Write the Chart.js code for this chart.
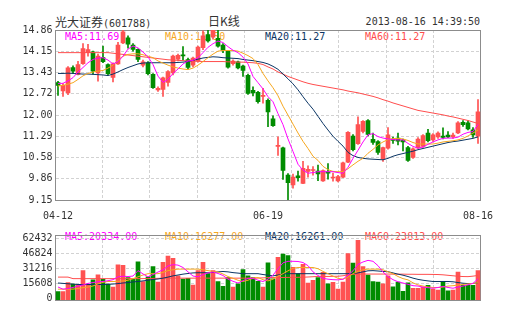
<!DOCTYPE html>
<html>
<head>
<meta charset="utf-8">
<title>光大证券 日K线</title>
<script src="https://cdn.jsdelivr.net/npm/chart.js@4.4.0/dist/chart.umd.min.js"></script>
<style>
  html, body { margin: 0; padding: 0; background: #fff; }
  #box { position: relative; width: 505px; height: 330px; overflow: hidden;
         font-family: "DejaVu Sans Mono", monospace; font-size: 10px; color: #333; }
  #box canvas { position: absolute; left: 0; }
  .txt { position: absolute; white-space: nowrap; line-height: 12px; }
  .cjk { font-family: "Noto Sans CJK SC", sans-serif; font-size: 12px; }
</style>
</head>
<body>
<div id="box">
  <div class="txt" style="left:55px;top:16px"><span class="cjk">光大证券</span>(601788)</div>
  <div class="txt cjk" style="left:208px;top:15px">日K线</div>
  <div class="txt" style="right:25px;top:16px">2013-08-16 14:39:50</div>

  <div class="txt" style="left:65px;top:31px;color:#ff00ff">MA5:11.69</div>
  <div class="txt" style="left:165px;top:31px;color:#f6a71f">MA10:11.50</div>
  <div class="txt" style="left:265px;top:31px;color:#0b3564">MA20:11.27</div>
  <div class="txt" style="left:365px;top:31px;color:#ff4d4d">MA60:11.27</div>

  <div class="txt" style="left:65px;top:231px;color:#ff00ff">MA5:20334.00</div>
  <div class="txt" style="left:165px;top:231px;color:#f6a71f">MA10:16277.00</div>
  <div class="txt" style="left:265px;top:231px;color:#0b3564">MA20:16261.00</div>
  <div class="txt" style="left:365px;top:231px;color:#ff4d4d">MA60:23813.00</div>

  <canvas id="kline" width="505" height="226" style="top:0"></canvas>
  <canvas id="volume" width="505" height="104" style="top:226px"></canvas>
</div>
<script>
// trading days
const dates = ['04-12','04-15','04-16','04-17','04-18','04-19','04-22','04-23','04-24','04-25','04-26',
  '05-02','05-03','05-06','05-07','05-08','05-09','05-10','05-13','05-14','05-15','05-16','05-17',
  '05-20','05-21','05-22','05-23','05-24','05-27','05-28','05-29','05-30','05-31',
  '06-03','06-04','06-05','06-06','06-07','06-13','06-14','06-17','06-18','06-19','06-20','06-21',
  '06-24','06-25','06-26','06-27','06-28',
  '07-01','07-02','07-03','07-04','07-05','07-08','07-09','07-10','07-11','07-12','07-15','07-16',
  '07-17','07-18','07-19','07-22','07-23','07-24','07-25','07-26','07-29','07-30','07-31',
  '08-01','08-02','08-05','08-06','08-07','08-08','08-09','08-12','08-13','08-14','08-15','08-16'];
const dateMarks = ['04-12', '06-19', '08-16'];

// daily prices
const open = [13.09,12.81,12.75,13.60,13.37,13.73,14.10,14.13,13.42,13.93,
  13.70,13.27,13.72,14.43,14.60,14.35,14.21,13.68,13.76,13.37,
  12.85,12.86,13.10,13.42,13.88,14.01,13.87,13.68,13.81,14.27,
  14.71,14.62,14.58,14.35,14.15,13.73,13.79,13.65,13.34,12.83,
  12.77,12.63,12.50,11.88,10.95,10.90,9.99,9.66,9.96,9.71,
  10.11,10.14,10.12,9.79,10.10,9.89,9.79,9.92,10.42,11.30,
  11.04,11.45,11.82,11.19,11.11,10.52,10.89,11.20,11.23,11.16,
  10.91,10.58,10.90,10.95,11.40,11.17,11.27,11.30,11.33,11.27,
  11.40,11.76,11.74,11.51,11.29];
const close = [13.00,13.00,13.59,13.48,13.70,14.24,14.20,13.48,13.98,13.80,
  13.39,13.72,14.35,14.80,14.38,14.21,13.87,13.79,13.39,12.92,
  12.90,13.25,13.46,13.98,14.01,13.99,13.60,13.92,14.29,14.66,
  14.49,14.85,14.32,14.17,13.61,13.82,13.59,13.50,12.73,12.75,
  12.45,12.66,12.11,11.65,10.98,10.14,9.73,9.92,9.90,10.21,
  10.18,10.16,10.03,10.14,10.05,9.91,9.94,10.40,11.42,10.84,
  11.68,11.79,11.35,11.08,10.75,10.91,11.34,11.15,11.13,11.10,
  10.48,10.87,11.20,11.31,11.14,11.34,11.40,11.25,11.27,11.33,
  11.74,11.68,11.54,11.34,12.11];
const high = [13.14,13.06,13.63,13.66,13.81,14.40,14.38,14.15,14.05,14.32,
  13.72,13.76,14.45,14.86,14.66,14.40,14.23,13.85,13.80,13.40,
  12.95,13.28,13.50,14.02,14.05,14.30,13.92,13.95,14.32,14.83,
  14.86,14.86,14.85,14.40,14.18,13.86,13.82,13.68,13.38,12.95,
  12.80,12.90,12.55,11.98,11.27,10.93,10.04,10.02,10.12,10.45,
  10.30,10.27,10.32,10.16,10.37,10.05,9.98,10.42,11.45,11.35,
  11.94,11.82,11.85,11.40,11.15,10.93,11.58,11.26,11.40,11.20,
  10.95,10.90,11.25,11.35,11.52,11.38,11.44,11.57,11.45,11.40,
  11.78,11.82,11.82,11.58,12.52];
const low = [12.66,12.63,12.69,13.40,13.35,13.70,13.98,13.38,13.14,13.76,
  13.36,13.12,13.70,14.40,14.25,14.15,13.80,13.62,13.35,12.90,
  12.80,12.63,12.97,13.35,13.82,13.85,13.55,13.62,13.78,14.20,
  14.45,14.55,14.28,14.10,13.58,13.68,13.55,13.30,12.70,12.65,
  12.40,12.40,11.61,11.62,10.65,9.84,9.15,9.55,9.78,9.70,
  9.92,9.98,9.80,9.77,9.85,9.78,9.76,9.90,10.40,10.80,
  11.02,11.40,11.30,11.02,10.68,10.45,10.86,11.05,11.00,10.80,
  10.45,10.55,10.88,10.92,11.10,11.12,11.22,11.20,11.24,11.22,
  11.38,11.62,11.50,11.25,11.05];

// price moving averages
const ma5 = [13.06,13.07,13.15,13.26,13.45,13.60,13.76,13.87,13.92,13.93,
  13.85,13.72,13.80,13.98,14.22,14.32,14.26,14.12,13.96,13.70,
  13.31,13.10,13.20,13.40,13.55,13.72,13.82,13.84,13.93,14.10,
  14.28,14.40,14.49,14.44,14.30,14.18,14.10,13.95,13.72,13.30,
  13.09,12.88,12.62,12.45,12.05,11.68,11.20,10.78,10.35,10.15,
  10.05,10.07,10.10,10.10,10.10,10.10,10.07,10.05,10.25,10.55,
  10.82,11.10,11.34,11.38,11.28,11.23,11.20,11.18,11.17,11.17,
  11.05,10.95,10.89,10.93,11.02,11.10,11.17,11.22,11.23,11.23,
  11.26,11.36,11.42,11.45,11.69];
const ma10 = [12.98,13.00,13.04,13.09,13.20,13.32,13.40,13.45,13.48,13.50,
  13.58,13.68,13.85,13.98,14.04,14.06,14.06,14.03,13.98,13.93,
  13.82,13.75,13.68,13.62,13.58,13.55,13.53,13.58,13.68,13.80,
  13.93,14.05,14.15,14.17,14.17,14.17,14.15,14.08,14.00,13.90,
  13.70,13.40,13.15,12.92,12.65,12.30,12.00,11.70,11.40,11.12,
  10.88,10.62,10.48,10.28,10.17,10.11,10.10,10.10,10.20,10.33,
  10.45,10.55,10.72,10.85,11.00,11.10,11.18,11.21,11.22,11.20,
  11.15,11.08,11.03,11.03,11.03,11.03,11.06,11.10,11.12,11.14,
  11.17,11.22,11.30,11.40,11.50];
const ma20 = [13.40,13.40,13.41,13.40,13.39,13.38,13.38,13.37,13.36,13.35,
  13.33,13.38,13.45,13.53,13.60,13.66,13.72,13.75,13.76,13.76,
  13.76,13.76,13.76,13.76,13.77,13.78,13.80,13.84,13.88,13.92,
  13.94,13.96,13.95,13.93,13.92,13.91,13.90,13.87,13.85,13.83,
  13.80,13.77,13.72,13.64,13.54,13.38,13.22,13.05,12.85,12.62,
  12.40,12.20,11.96,11.72,11.50,11.29,11.12,10.96,10.75,10.64,
  10.58,10.55,10.53,10.52,10.51,10.50,10.55,10.62,10.67,10.71,
  10.75,10.79,10.84,10.88,10.92,10.96,11.00,11.04,11.08,11.11,
  11.13,11.16,11.19,11.22,11.27];
const ma60 = [14.10,14.10,14.10,14.10,14.10,14.10,14.10,14.10,14.10,14.10,
  14.10,14.08,14.06,14.04,14.02,14.00,13.98,13.96,13.94,13.92,
  13.90,13.88,13.86,13.85,13.84,13.83,13.82,13.81,13.81,13.80,
  13.80,13.80,13.80,13.80,13.79,13.79,13.78,13.78,13.77,13.76,
  13.74,13.70,13.62,13.55,13.45,13.38,13.30,13.24,13.18,13.12,
  13.07,13.03,13.00,12.97,12.94,12.91,12.88,12.85,12.81,12.78,
  12.75,12.71,12.67,12.63,12.58,12.52,12.47,12.41,12.36,12.31,
  12.26,12.21,12.16,12.13,12.10,12.07,12.04,12.01,11.97,11.94,
  11.90,11.86,11.82,11.77,11.72];

// daily volume and its moving averages
const volume = [7000,7000,16400,14800,14100,29000,14500,19300,24600,19700,
  14900,11700,35100,34500,21500,19800,38200,17500,22400,33200,
  16900,37700,44200,41900,23400,20100,20800,13700,28900,37700,
  25700,28900,17500,12400,21500,11700,15000,29900,23400,21500,
  17700,11700,37000,20300,43000,46200,44600,32500,25800,35600,
  15700,18600,21500,27000,15000,16600,9500,16900,46700,36900,
  60800,33200,24100,17500,16900,15000,23400,12000,16900,7100,
  16200,10400,10400,11700,13400,9400,8400,17500,7800,8400,
  27300,13500,13500,13500,29000];
const vma5 = [11700,9400,10100,11200,12700,13900,15500,16400,17200,17500,
  18300,19400,22400,23000,22700,23200,28900,25400,22400,24800,
  27400,29800,33800,35200,34700,32200,27600,23200,22400,24800,
  26500,27400,25900,23800,19900,17700,15900,18300,20800,20800,
  18800,17500,19900,24100,30900,37100,38700,38700,38500,37400,
  34100,27600,23800,20800,19900,19400,19200,19900,24100,28700,
  35500,38000,39700,38700,34100,27400,22700,19400,17200,15900,
  14500,13100,12700,11600,11000,10400,11200,12300,11200,10400,
  11700,12700,14000,15500,20334];
const vma10 = [9400,9400,9400,9500,10100,11000,11700,12800,15000,16600,
  17500,17500,17700,18000,18800,20500,22400,24300,25700,25700,
  25700,27000,28900,29800,30500,30500,30500,30500,30500,29800,
  28900,28100,27400,25400,22700,20800,18800,17500,18800,21000,
  21600,19400,18100,19900,23200,25700,28700,31400,32200,32200,
  32200,32200,30900,28100,25700,23200,20800,19900,22100,25700,
  28100,29800,30500,30500,30500,29800,27600,25700,22700,20500,
  19200,16100,13900,12700,11700,11200,11100,11700,12700,13100,
  13800,14300,14900,15500,16277];
const vma20 = [15900,15500,15100,14700,14300,14300,14300,14300,14300,14300,
  14500,14800,15300,15900,16400,17000,17500,18100,18800,19600,
  20100,21000,22100,23400,24300,25200,25900,26500,26700,26700,
  26700,27000,27600,28000,27600,26800,26300,25700,25700,25700,
  25700,24800,24100,23400,24300,25400,25700,25700,25700,25700,
  25700,25700,25700,25700,25700,25700,25700,25700,25700,25700,
  26500,27600,28700,28900,28500,28100,27800,26500,25200,24100,
  22700,21000,19700,18800,18100,17500,17500,17500,17500,17200,
  16400,15700,15300,15400,16261];
const vma60 = [22100,22100,22100,20500,20500,20500,20500,20500,20500,20500,
  20500,20500,20500,20500,20500,20500,20500,20500,20600,20700,
  20800,20900,21000,21000,21000,21000,21000,21000,21000,21000,
  21000,21000,21000,21000,21000,21000,21000,21000,21000,21000,
  21100,21300,21600,21600,21600,21700,21800,21800,21900,22000,
  22200,22500,22800,22800,22800,22900,23000,23500,24600,25000,
  25200,25300,25300,25300,25300,25300,25300,25200,25200,25200,
  25100,25100,25000,25000,25000,24900,24800,24500,24000,23500,
  23000,22700,22600,23100,23813];

// axis ticks
const priceTicks = ['9.15','9.86','10.58','11.29','12.00','12.72','13.43','14.15','14.86'];
const priceMin = 9.15, priceMax = 14.86;
const volTicks = [0, 15608, 31216, 46824, 62432];
const volMin = -1951, volMax = 66334;

const RED = '#ff5252', GREEN = '#008c00';
const MA_COLORS = ['#ff00ff', '#f6a71f', '#0b3564', '#ff4d4d'];
const GRID = '#d2d2d2', FRAME = '#8c8c8c';

Chart.defaults.font.family = '"DejaVu Sans Mono", monospace';
Chart.defaults.font.size = 10;
Chart.defaults.color = '#333';

const upColor = open.map((o, i) => close[i] >= o ? RED : GREEN);

// solid box round the plot area
const frame = {
  id: 'frame',
  beforeDatasetsDraw(chart) {
    const { ctx, chartArea: a } = chart;
    ctx.save();
    ctx.strokeStyle = FRAME;
    ctx.lineWidth = 1;
    ctx.strokeRect(Math.floor(a.left) + 0.5, Math.floor(a.top) + 0.5,
      Math.round(a.right - a.left), Math.round(a.bottom - a.top));
    ctx.restore();
  }
};

// dashed column lines, eight equal columns
function columnAxis() {
  return {
    type: 'linear', position: 'top', min: 0, max: 8,
    ticks: { display: false, stepSize: 1 },
    grid: { color: GRID, drawTicks: false },
    border: { display: false, dash: [3, 2] },
    afterFit(s) { s.height = 0; }
  };
}

function maLine(label, data, color) {
  return { type: 'line', label, data, borderColor: color, borderWidth: 1,
    pointRadius: 0, tension: 0, fill: false, order: 0 };
}

new Chart(document.getElementById('kline'), {
  type: 'bar',
  data: {
    labels: dates,
    datasets: [
      maLine('MA5', ma5, MA_COLORS[0]),
      maLine('MA10', ma10, MA_COLORS[1]),
      maLine('MA20', ma20, MA_COLORS[2]),
      maLine('MA60', ma60, MA_COLORS[3]),
      { label: 'body', data: open.map((o, i) => [o, close[i]]), backgroundColor: upColor,
        barThickness: 4, minBarLength: 1, grouped: false, order: 2 },
      { label: 'wick', data: low.map((l, i) => [l, high[i]]), backgroundColor: upColor,
        barThickness: 1, grouped: false, order: 3 }
    ]
  },
  options: {
    responsive: false,
    animation: false,
    events: [],
    layout: { padding: { left: 0.5, right: 24.5, top: 30, bottom: 0 } },
    plugins: { legend: { display: false }, tooltip: { enabled: false } },
    scales: {
      x: {
        type: 'category', offset: true,
        grid: { display: false, drawTicks: false },
        border: { display: false },
        ticks: { autoSkip: false, maxRotation: 0, padding: 10,
          callback: (v, i) => dateMarks.includes(dates[i]) ? dates[i] : '' },
        afterFit(s) { s.height = 26; }
      },
      xg: columnAxis(),
      y: {
        position: 'left', min: priceMin, max: priceMax,
        afterBuildTicks(s) { s.ticks = priceTicks.map(t => ({ value: parseFloat(t) })); },
        ticks: { padding: 3, callback: (v, i) => priceTicks[i] },
        grid: { color: GRID, drawTicks: false },
        border: { display: false, dash: [3, 2] },
        afterFit(s) { s.width = 55; }
      }
    }
  },
  plugins: [frame]
});

new Chart(document.getElementById('volume'), {
  type: 'bar',
  data: {
    labels: dates,
    datasets: [
      maLine('MA5', vma5, MA_COLORS[0]),
      maLine('MA10', vma10, MA_COLORS[1]),
      maLine('MA20', vma20, MA_COLORS[2]),
      maLine('MA60', vma60, MA_COLORS[3]),
      { label: 'volume', data: volume, backgroundColor: upColor, base: volMin,
        barThickness: 4, grouped: false, order: 2 }
    ]
  },
  options: {
    responsive: false,
    animation: false,
    events: [],
    layout: { padding: { left: 0.5, right: 24.5, top: 4, bottom: 30 } },
    plugins: { legend: { display: false }, tooltip: { enabled: false } },
    scales: {
      x: { type: 'category', offset: true, display: false },
      xg: columnAxis(),
      y: {
        position: 'left', min: volMin, max: volMax,
        afterBuildTicks(s) { s.ticks = volTicks.map(v => ({ value: v })); },
        ticks: { padding: 3, callback: (v, i) => String(volTicks[i]) },
        grid: { color: GRID, drawTicks: false },
        border: { display: false, dash: [3, 2] },
        afterFit(s) { s.width = 55; }
      }
    }
  },
  plugins: [frame]
});
</script>
</body>
</html>
